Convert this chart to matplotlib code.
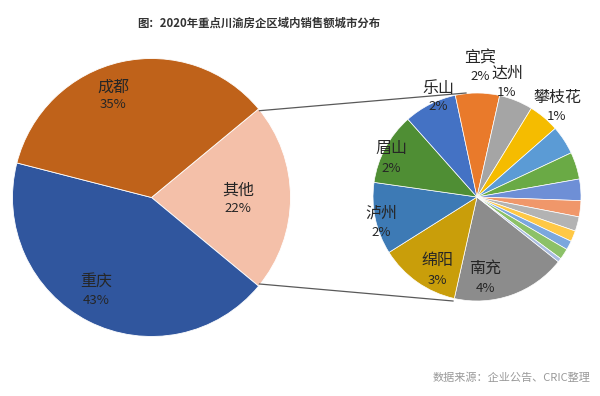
import matplotlib
matplotlib.use("Agg")
import matplotlib.pyplot as plt

plt.rcParams['font.family'] = ['Noto Sans CJK SC', 'DejaVu Sans']

# ---- data ----
main_labels = ["其他", "重庆", "成都"]
main_values = [22, 43, 35]
main_colors = ["#F4C0A9", "#30569E", "#BF621A"]

sub_labels = ["南充", "绵阳", "泸州", "眉山", "乐山", "宜宾", "达州", "攀枝花",
              "", "", "", "", "", "", "", "", ""]
sub_values = [3.9, 2.75, 2.45, 2.45, 1.8, 1.5, 1.15, 1.05,
              0.98, 0.92, 0.73, 0.55, 0.49, 0.37, 0.31, 0.37, 0.13]
sub_colors = ["#8C8C8C", "#C99E0A", "#3D7AB5", "#4F8E34", "#4472C4", "#E97A2B",
              "#A5A5A5", "#F5BC00", "#5B9BD5", "#6AAA45", "#6E8FD6", "#F0976A",
              "#B3B3B3", "#FFC845", "#7BA7DE", "#8CC168", "#A9BCE0"]

title = "图：2020年重点川渝房企区域内销售额城市分布"
source = "数据来源：企业公告、CRIC整理"

W, H = 600, 396
fig = plt.figure(figsize=(6, 3.96), dpi=100)
ax = fig.add_axes([0, 0, 1, 1])
ax.set_xlim(0, W)
ax.set_ylim(0, H)
ax.set_aspect('equal')
ax.axis('off')

def Y(y):
    return H - y

# left pie
lc = (151.5, Y(197.5)); lr = 139
ax.pie(main_values, colors=main_colors, center=lc, radius=lr,
       startangle=90 - 50.4, counterclock=False,
       wedgeprops=dict(linewidth=0.6, edgecolor='white'), frame=True)

# right pie
rc = (477, Y(197)); rr = 104
ax.pie(sub_values, colors=sub_colors, center=rc, radius=rr,
       startangle=90 - 128.5, counterclock=False,
       wedgeprops=dict(linewidth=0.5, edgecolor='white'), frame=True)
ax.set_xlim(0, W)
ax.set_ylim(0, H)
ax.axis('off')

# connector lines
ax.plot([259.5, 466], [Y(110.7), Y(93)], color='#595959', lw=0.9)
ax.plot([259.5, 453], [Y(284), Y(301)], color='#595959', lw=0.9)

def lab(name, pct, x, y1, y2, fs1=11.5, fs2=9.5, color='#262626'):
    ax.text(x, Y(y1), name, ha='center', va='center', fontsize=fs1, color=color)
    ax.text(x, Y(y2), pct, ha='center', va='center', fontsize=fs2, color=color)

# left pie labels
main_pos = {"成都": (113, 87, 105), "其他": (238, 190, 209), "重庆": (96, 281, 300)}
for name, v in zip(main_labels, main_values):
    x, y1, y2 = main_pos[name]
    lab(name, f"{v}%", x, y1, y2)

# right pie labels
sub_pos = {"宜宾": (480, 58, 77), "达州": (507, 73, 93), "攀枝花": (557, 97, 117),
           "乐山": (438, 89, 107), "眉山": (391, 148, 168), "泸州": (381, 213, 233),
           "绵阳": (437, 260, 280), "南充": (485, 269, 289)}
for name, v in zip(sub_labels, sub_values):
    if name:
        x, y1, y2 = sub_pos[name]
        lab(name, f"{round(v + 1e-9):.0f}%", x, y1, y2)

ax.text(259, Y(23), title, ha='center', va='center', fontsize=8.2,
        fontweight='bold', color='#333333')
ax.text(590, Y(378), source, ha='right', va='center', fontsize=8, color='#999999')

fig.savefig("out.png", dpi=100)
